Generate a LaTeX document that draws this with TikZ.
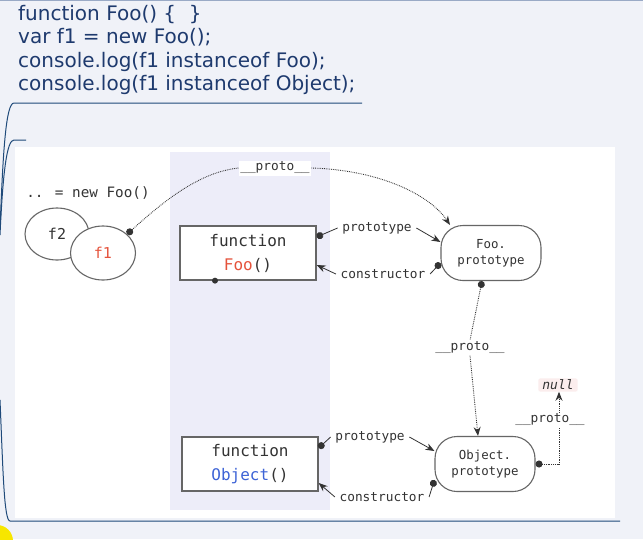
\documentclass[tikz,border=0pt]{standalone}
\usepackage{xcolor}
\usepackage{fontspec}
\setmainfont{DejaVu Sans}
\newfontfamily\monofont{DejaVu Sans Mono}
\usepackage{tikz}
\usetikzlibrary{shapes,arrows,arrows.meta,positioning}

\definecolor{pagebg}{HTML}{F0F2F8}
\definecolor{bandbg}{HTML}{EDEDF9}
\definecolor{codeblue}{HTML}{1E3A6E}
\definecolor{rulecol}{HTML}{1F4A7A}
\definecolor{topline}{HTML}{9AAAC6}
\definecolor{foored}{HTML}{E5533C}
\definecolor{objblue}{HTML}{3D63D6}
\definecolor{inkgray}{HTML}{333333}
\definecolor{nullbg}{HTML}{FBEDED}
\definecolor{marker}{HTML}{F7E600}

\begin{document}
\begin{tikzpicture}[x=1pt, y=-1pt,
    codeline/.style={anchor=base west, inner sep=0pt, text=codeblue, font=\fontsize{20}{22}\selectfont},
    block/.style={rectangle, draw=black!60, line width=1.3pt, fill=white, minimum width=136pt, minimum height=54pt, align=center, text=inkgray, font=\monofont\fontsize{16}{24}\selectfont},
    protobox/.style={rectangle, draw=black!60, line width=1.1pt, fill=white, rounded corners=22pt, minimum width=100pt, minimum height=55pt, align=center, text=inkgray, font=\monofont\fontsize{12.4}{16}\selectfont},
    instance/.style={ellipse, draw=black!60, line width=1.1pt, fill=white, text=inkgray, font=\monofont\fontsize{15}{18}\selectfont},
    lbl/.style={inner sep=1.5pt, text=inkgray, font=\monofont\fontsize{12.8}{15}\selectfont},
    dotstart/.style={{Circle[length=7pt]}-, draw=black!80, line width=0.8pt},
    tipend/.style={-{Stealth[length=9pt,width=7pt]}, draw=black!80, line width=0.8pt},
    protoline/.style={densely dotted, line width=0.9pt}]

    % slide background
    \fill[pagebg] (0,0) rectangle (643,539);
    \useasboundingbox (0,0) rectangle (643,539);
    \draw[topline, line width=1.2pt] (0,0.6) -- (643,0.6);

    % code on the slide
    \node[codeline] (code1) at (18,20) {function Foo() \{\ \ \}};
    \node[codeline] (code2) at (18,43.5) {var f1 = new Foo();};
    \node[codeline] (code3) at (18,67) {console.log(f1 instanceof Foo);};
    \node[codeline] (code4) at (18,90.5) {console.log(f1 instanceof Object);};

    % bracket lines
    \draw[rulecol, line width=1pt] (362,103) -- (14,103) .. controls (6,103) and (3,150) .. (0,230);
    \draw[rulecol, line width=1pt] (26,140) -- (14,140) .. controls (7,140) and (3,170) .. (0,235);
    \draw[rulecol, line width=1pt] (0,400) .. controls (3,470) and (4,521) .. (10,521) -- (620,521);
    \fill[marker] (-3,541) circle (16);

    % diagram panel
    \fill[white] (15,147) rectangle (615,518);
    \fill[bandbg] (170,152) rectangle (330,510);

    \node[lbl, font=\monofont\fontsize{14.3}{16}\selectfont] (newFoo) at (88,193) {.. = new Foo()};
    \node[instance, minimum width=64pt, minimum height=52pt] (f2) at (57,234) {f2};
    \node[instance, minimum width=65pt, minimum height=54pt, text=foored] (f1) at (103,253) {f1};

    \node[block] (fooFn) at (248,253) {function\\\textcolor{foored}{Foo}()};
    \node[block] (objFn) at (250,464) {function\\\textcolor{objblue}{Object}()};
    \node[protobox] (fooProto) at (491,253) {Foo.\\prototype};
    \node[protobox] (objProto) at (485,464) {Object.\\prototype};

    \node[lbl, fill=white] (protoTop) at (275,168) {\_\_proto\_\_};
    \node[lbl] (protoA) at (377,228) {prototype};
    \node[lbl] (consA) at (383,274) {constructor};
    \node[lbl, fill=white] (protoMid) at (470,348) {\_\_proto\_\_};
    \node[lbl] (protoB) at (370,437) {prototype};
    \node[lbl] (consB) at (382,497) {constructor};
    \node[lbl, fill=white] (protoR) at (550,420) {\_\_proto\_\_};
    \node[lbl, fill=nullbg, rounded corners=2pt, inner xsep=4pt, font=\monofont\itshape\fontsize{13}{15}\selectfont] (nullLbl) at (558,385) {null};
    \coordinate (elbow) at (559,464);

    % f1 -> Foo.prototype
    \draw[dotstart, protoline] (f1.38) .. controls (165,200) and (200,172) .. (protoTop.west);
    \draw[tipend, protoline] (protoTop.east) .. controls (380,170) and (430,195) .. ([xshift=-41pt]fooProto.north);

    % Foo() <-> Foo.prototype
    \draw[dotstart] ([yshift=16pt]fooFn.east) -- ([xshift=-3pt]protoA.west);
    \draw[tipend] ([xshift=3pt]protoA.east) -- ([yshift=11pt]fooProto.west);
    \draw[dotstart] ([yshift=-10pt]fooProto.west) -- ([xshift=3pt]consA.east);
    \draw[tipend] ([xshift=-3pt]consA.west) -- ([yshift=-12pt]fooFn.east);
    \fill[black!80] ([xshift=-33pt]fooFn.south) circle (3pt);

    % Foo.prototype -> Object.prototype
    \draw[dotstart, protoline] ([xshift=-9pt]fooProto.south) -- (protoMid.north);
    \draw[tipend, protoline] (protoMid.south) -- ([xshift=-7pt]objProto.north);

    % Object() <-> Object.prototype
    \draw[dotstart] ([yshift=16pt]objFn.east) -- ([xshift=-3pt]protoB.west);
    \draw[tipend] ([xshift=3pt]protoB.east) -- ([yshift=13pt]objProto.west);
    \draw[dotstart] ([yshift=-16pt]objProto.west) -- ([xshift=3pt]consB.east);
    \draw[tipend] ([xshift=-3pt]consB.west) -- ([yshift=-19pt]objFn.east);

    % Object.prototype -> null
    \draw[dotstart, protoline] (objProto.east) -- (elbow) -- (elbow |- protoR.south);
    \draw[tipend, protoline] (elbow |- protoR.north) -- (elbow |- nullLbl.south);
\end{tikzpicture}
\end{document}
